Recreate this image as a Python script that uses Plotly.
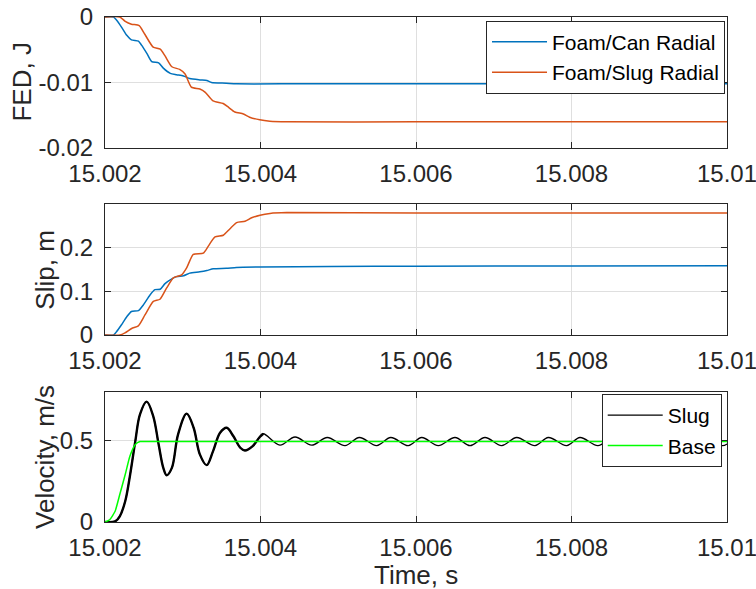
import plotly.graph_objects as go

# ---------------- data ----------------
x_ticks = [15.002, 15.004, 15.006, 15.008, 15.01]
x_tick_labels = ["15.002", "15.004", "15.006", "15.008", "15.01"]

fed_can_t = [15.002, 15.00211, 15.00215, 15.00221, 15.00228, 15.00234, 15.00243, 15.00247,
             15.00254, 15.0026, 15.00269, 15.00275, 15.00284, 15.00292, 15.00301, 15.00309,
             15.00322, 15.00331, 15.00337, 15.00356, 15.00369, 15.0045, 15.006, 15.008, 15.01]
fed_can_v = [0, 0, -0.0005, -0.0015, -0.0028, -0.0035, -0.0037, -0.0043,
             -0.0056, -0.0068, -0.0070, -0.0078, -0.0086, -0.0088, -0.0090, -0.0094,
             -0.0096, -0.0097, -0.0100, -0.0101, -0.0102, -0.0102, -0.0102, -0.0102, -0.0102]

fed_slug_t = [15.002, 15.00219, 15.00226, 15.00234, 15.00244, 15.00251, 15.00262, 15.00271,
              15.00277, 15.00286, 15.00296, 15.00303, 15.00311, 15.00322, 15.00329, 15.00339,
              15.00352, 15.00359, 15.00367, 15.00378, 15.00386, 15.00399, 15.00412, 15.00434,
              15.006, 15.008, 15.01]
fed_slug_v = [0, 0, -0.00066, -0.0011, -0.0013, -0.0026, -0.0046, -0.0049,
              -0.0059, -0.0076, -0.0080, -0.0087, -0.0107, -0.0110, -0.0115, -0.0128,
              -0.0132, -0.0138, -0.0145, -0.0148, -0.0153, -0.0157, -0.0159, -0.0160,
              -0.0160, -0.0160, -0.0160]

slip_can_t = [15.002, 15.00211, 15.00215, 15.00221, 15.00228, 15.00234, 15.00243, 15.002493,
              15.002579, 15.002643, 15.00271, 15.002772, 15.00286, 15.00292, 15.00301, 15.00309,
              15.00322, 15.00331, 15.003393, 15.00356, 15.00369, 15.003994, 15.004894, 15.006,
              15.008, 15.01]
slip_can_v = [0, 0, 0.008, 0.023, 0.042, 0.054, 0.056, 0.069,
              0.092, 0.104, 0.105, 0.118, 0.129, 0.134, 0.136, 0.142,
              0.145, 0.148, 0.152, 0.153, 0.155, 0.156, 0.157, 0.158,
              0.1585, 0.159]

slip_slug_t = [15.002, 15.002193, 15.002257, 15.002343, 15.002429, 15.002514, 15.002622, 15.002707,
               15.002793, 15.002879, 15.002986, 15.00305, 15.003136, 15.003265, 15.003329, 15.003415,
               15.003522, 15.003608, 15.003693, 15.003801, 15.003886, 15.003994, 15.004122, 15.004337,
               15.006, 15.008, 15.01]
slip_slug_v = [0, 0, 0.005, 0.015, 0.021, 0.046, 0.077, 0.082,
               0.108, 0.131, 0.138, 0.154, 0.185, 0.188, 0.204, 0.225,
               0.229, 0.244, 0.258, 0.261, 0.269, 0.275, 0.279, 0.281,
               0.280, 0.280, 0.280]

vel_slug_t = [15.002, 15.00213, 15.00219, 15.00226, 15.00232, 15.00239, 15.00245, 15.002536,
              15.00262, 15.00269, 15.00275, 15.002793, 15.00286, 15.00294, 15.00305, 15.00314,
              15.00322, 15.003308, 15.00339, 15.00348, 15.003565, 15.00365, 15.00374, 15.0038,
              15.0039, 15.00399, 15.004036, 15.00425, 15.004444, 15.004658, 15.004859, 15.005087,
              15.005271, 15.005495, 15.005675, 15.005901, 15.006073, 15.006287, 15.006502, 15.006695,
              15.006887, 15.007102, 15.007295, 15.00753, 15.007702, 15.007938, 15.008109, 15.00834,
              15.00853, 15.00874, 15.00894, 15.00914, 15.00934, 15.00954, 15.00974, 15.00994, 15.01]
vel_slug_v = [0, 0.004, 0.035, 0.128, 0.282, 0.498, 0.663, 0.741,
              0.652, 0.477, 0.333, 0.288, 0.333, 0.539, 0.667, 0.580,
              0.416, 0.350, 0.436, 0.549, 0.580, 0.529, 0.457, 0.440,
              0.467, 0.523, 0.543, 0.473, 0.523, 0.473, 0.520, 0.470,
              0.520, 0.470, 0.520, 0.470, 0.520, 0.470, 0.520, 0.470,
              0.520, 0.470, 0.520, 0.470, 0.520, 0.470, 0.520, 0.470,
              0.520, 0.470, 0.520, 0.470, 0.520, 0.470, 0.520, 0.470, 0.480]

vel_base_t = [15.002, 15.00206, 15.00213, 15.00219, 15.00226, 15.00232, 15.00239, 15.00245,
              15.0025, 15.01]
vel_base_v = [0, 0.014, 0.066, 0.169, 0.292, 0.405, 0.477, 0.495, 0.495, 0.495]

# ---------------- styling ----------------
BLUE = "#0072BD"
ORANGE = "#D95319"
AX = "#262626"
GRID = "#DFDFDF"
FONT = "Liberation Sans, Arial, Helvetica, sans-serif"
TICK_FS = 24
LABEL_FS = 26
LEG_FS = 21

fig = go.Figure()

fig.add_trace(go.Scatter(x=fed_can_t, y=fed_can_v, mode="lines", name="Foam/Can Radial",
                         line=dict(color=BLUE, width=1.5, shape="spline", smoothing=0.6),
                         xaxis="x", yaxis="y", legend="legend"))
fig.add_trace(go.Scatter(x=fed_slug_t, y=fed_slug_v, mode="lines", name="Foam/Slug Radial",
                         line=dict(color=ORANGE, width=1.5, shape="spline", smoothing=0.6),
                         xaxis="x", yaxis="y", legend="legend"))

fig.add_trace(go.Scatter(x=slip_can_t, y=slip_can_v, mode="lines", showlegend=False,
                         line=dict(color=BLUE, width=1.5, shape="spline", smoothing=0.6),
                         xaxis="x2", yaxis="y2"))
fig.add_trace(go.Scatter(x=slip_slug_t, y=slip_slug_v, mode="lines", showlegend=False,
                         line=dict(color=ORANGE, width=1.5, shape="spline", smoothing=0.6),
                         xaxis="x2", yaxis="y2"))

fig.add_trace(go.Scatter(x=vel_slug_t, y=vel_slug_v, mode="lines", name="Slug",
                         line=dict(color="black", width=1.3, shape="spline"),
                         xaxis="x3", yaxis="y3", legend="legend2"))
n_early = 27
fig.add_trace(go.Scatter(x=vel_slug_t[:n_early], y=vel_slug_v[:n_early], mode="lines",
                         showlegend=False, hoverinfo="skip",
                         line=dict(color="black", width=2.4, shape="spline"),
                         xaxis="x3", yaxis="y3"))
fig.add_trace(go.Scatter(x=vel_base_t, y=vel_base_v, mode="lines", name="Base",
                         line=dict(color="#00FF00", width=1.5, shape="spline", smoothing=0.5),
                         xaxis="x3", yaxis="y3", legend="legend2"))

def xax(anchor):
    return dict(domain=[0, 1], anchor=anchor, range=[15.002, 15.01], automargin=False,
                tickvals=x_ticks, ticktext=x_tick_labels, ticklabeloverflow="allow",
                ticks="inside", ticklen=6, tickcolor=AX, tickwidth=1,
                showline=True, linecolor=AX, linewidth=1, mirror="ticks",
                showgrid=True, gridcolor=GRID, gridwidth=1, zeroline=False,
                tickfont=dict(family=FONT, size=TICK_FS, color=AX),
                ticklabelstandoff=4)

def yax(anchor, domain, rng, vals, texts):
    return dict(domain=domain, anchor=anchor, range=rng, automargin=False,
                tickvals=vals, ticktext=texts, ticklabeloverflow="allow",
                ticks="inside", ticklen=6, tickcolor=AX, tickwidth=1,
                showline=True, linecolor=AX, linewidth=1, mirror="ticks",
                showgrid=True, gridcolor=GRID, gridwidth=1, zeroline=False,
                tickfont=dict(family=FONT, size=TICK_FS, color=AX),
                ticklabelstandoff=6)

fig.update_layout(
    width=756, height=589,
    margin=dict(l=105, r=29, t=17, b=67, autoexpand=False),
    paper_bgcolor="white", plot_bgcolor="white",
    font=dict(family=FONT, color=AX),
    xaxis=xax("y"),
    xaxis2=xax("y2"),
    xaxis3=xax("y3"),
    yaxis=yax("x", [0.7406, 1.0], [-0.02, 0], [-0.02, -0.01, 0], ["-0.02", "-0.01", "0"]),
    yaxis2=yax("x2", [0.3703, 0.6291], [0, 0.3], [0, 0.1, 0.2], ["0", "0.1", "0.2"]),
    yaxis3=yax("x3", [0.0, 0.2574], [0, 0.8], [0, 0.5], ["0", "0.5"]),
    legend=dict(x=0.9968, y=0.9927, xanchor="right", yanchor="top",
                bgcolor="white", bordercolor=AX, borderwidth=1, itemwidth=55,
                font=dict(family=FONT, size=LEG_FS, color="black")),
    legend2=dict(x=0.9915, y=0.2535, xanchor="right", yanchor="top",
                 bgcolor="white", bordercolor=AX, borderwidth=1, itemwidth=55,
                 font=dict(family=FONT, size=LEG_FS, color="black")),
    showlegend=True,
)

ann_font = dict(family=FONT, size=LABEL_FS, color=AX)
fig.add_annotation(text="FED, J", xref="paper", yref="paper", x=-0.1334, y=0.8703,
                   textangle=-90, showarrow=False, font=ann_font, xanchor="center", yanchor="middle")
fig.add_annotation(text="Slip, m", xref="paper", yref="paper", x=-0.0965, y=0.4997,
                   textangle=-90, showarrow=False, font=ann_font, xanchor="center", yanchor="middle")
fig.add_annotation(text="Velocity, m/s", xref="paper", yref="paper", x=-0.0965, y=0.1287,
                   textangle=-90, showarrow=False, font=ann_font, xanchor="center", yanchor="middle")
fig.add_annotation(text="Time, s", xref="paper", yref="paper", x=0.5, y=-0.1050,
                   showarrow=False, font=ann_font, xanchor="center", yanchor="middle")

fig.write_html("out.html")
